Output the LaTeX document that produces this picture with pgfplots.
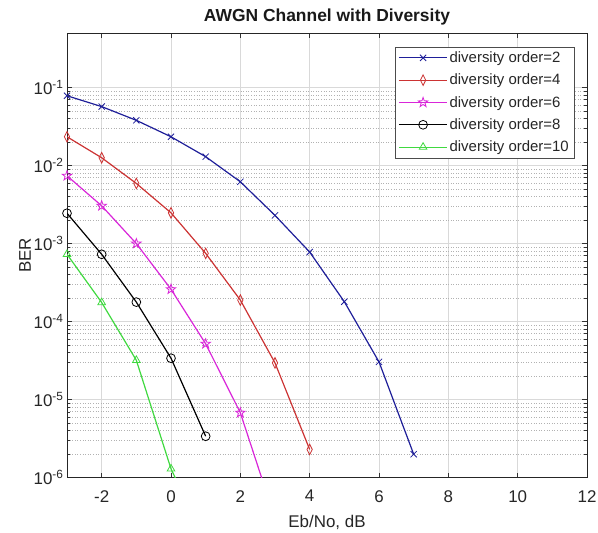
\documentclass[border=0pt]{standalone}
\usepackage{pgfplots}
\pgfplotsset{compat=1.18}
\usepackage{fontspec}
\setmainfont{Liberation Sans}
\definecolor{cblue}{rgb}{0.12,0.12,0.6}
\definecolor{cred}{rgb}{0.8,0.2,0.2}
\definecolor{cmag}{rgb}{0.85,0.15,0.85}
\definecolor{cgreen}{rgb}{0.25,0.85,0.25}
\definecolor{txt}{rgb}{0.15,0.15,0.15}
\pgfdeclareplotmark{pentagram}{%
  \pgfpathmoveto{\pgfqpointpolar{90}{1.15\pgfplotmarksize}}%
  \pgfpathlineto{\pgfqpointpolar{126}{0.46\pgfplotmarksize}}%
  \pgfpathlineto{\pgfqpointpolar{162}{1.15\pgfplotmarksize}}%
  \pgfpathlineto{\pgfqpointpolar{198}{0.46\pgfplotmarksize}}%
  \pgfpathlineto{\pgfqpointpolar{234}{1.15\pgfplotmarksize}}%
  \pgfpathlineto{\pgfqpointpolar{270}{0.46\pgfplotmarksize}}%
  \pgfpathlineto{\pgfqpointpolar{306}{1.15\pgfplotmarksize}}%
  \pgfpathlineto{\pgfqpointpolar{342}{0.46\pgfplotmarksize}}%
  \pgfpathlineto{\pgfqpointpolar{18}{1.15\pgfplotmarksize}}%
  \pgfpathlineto{\pgfqpointpolar{54}{0.46\pgfplotmarksize}}%
  \pgfpathclose
  \pgfusepathqstroke}
\begin{document}
\begin{tikzpicture}
\begin{axis}[
  scale only axis, width=520bp, height=444.7bp,
  xmin=-3, xmax=12,
  ymode=log, ymin=1e-6, ymax=0.5,
  xtick={-2,0,2,4,6,8,10,12},
  xticklabels={-2,0,2,4,6,8,10,12},
  ytick={1e-6,1e-5,1e-4,1e-3,1e-2,1e-1},
  yticklabels={10\textsuperscript{-6},10\textsuperscript{-5},10\textsuperscript{-4},10\textsuperscript{-3},10\textsuperscript{-2},10\textsuperscript{-1}},
  grid=both,
  major grid style={color=black!15, line width=0.6bp},
  minor grid style={color=black!30, line width=0.6bp, dotted},
  tick align=inside,
  major tick length=5bp, minor tick length=3bp,
  tick style={color=black!80, line width=0.5bp},
  axis line style={color=black!85, line width=0.6bp},
  ticklabel style={font=\fontsize{17}{20}\selectfont, color=txt},
  xticklabel style={yshift=-9bp},
  title={AWGN Channel with Diversity},
  title style={font=\bfseries\fontsize{17.5}{20}\selectfont, color=black!90, yshift=-2bp},
  xlabel={Eb/No, dB}, ylabel={BER},
  label style={font=\fontsize{17}{20}\selectfont, color=txt},
  xlabel style={yshift=-6bp},
  ylabel style={yshift=-4bp},
  legend style={at={(0.975,0.9685)}, anchor=north east, draw=black!70,
    font=\fontsize{15}{18}\selectfont, text=txt, fill=white,
    inner xsep=3bp, inner ysep=2.5bp, row sep=6bp},
  legend cell align=left,
  legend image code/.code={\draw[line width=0.9bp] (0cm,0cm) -- (1.7cm,0cm); \draw[line width=0.8bp] plot coordinates {(0.85cm,0cm)};},
]
\addplot[color=cblue, line width=1.2bp, mark size=4.4bp, mark=x, mark options={line width=0.8bp}] coordinates {
(-3,0.0785)(-2,0.057)(-1,0.038)(0,0.0234)(1,0.013)(2,0.0062)(3,0.0023)(4,7.8e-4)(5,1.8e-4)(6,3.05e-5)(7,2.0e-6)};
\addlegendentry{diversity order=2}
\addplot[color=cred, line width=1.2bp, mark size=4.4bp, mark=diamond, mark options={line width=0.8bp, xscale=0.8, yscale=1.2}] coordinates {
(-3,0.0234)(-2,0.0126)(-1,0.0059)(0,0.00248)(1,7.5e-4)(2,1.89e-4)(3,2.96e-5)(4,2.3e-6)};
\addlegendentry{diversity order=4}
\addplot[color=cmag, line width=1.2bp, mark size=4.4bp, mark=pentagram, mark options={line width=0.8bp}] coordinates {
(-3,0.0074)(-2,0.00305)(-1,0.001)(0,2.6e-4)(1,5.2e-5)(2,6.8e-6)(3,3e-7)};
\addlegendentry{diversity order=6}
\addplot[color=black, line width=1.2bp, mark size=4.4bp, mark=o, mark options={line width=0.8bp}] coordinates {
(-3,0.00245)(-2,7.3e-4)(-1,1.78e-4)(0,3.4e-5)(1,3.4e-6)};
\addlegendentry{diversity order=8}
\addplot[color=cgreen, line width=1.2bp, mark size=4.4bp, mark=triangle, mark options={line width=0.8bp}] coordinates {
(-3,7.3e-4)(-2,1.76e-4)(-1,3.2e-5)(0,1.3e-6)(1,1.5e-7)};
\addlegendentry{diversity order=10}
\end{axis}
\pgfresetboundingbox
\path[use as bounding box] ([xshift=-67bp,yshift=-55.3bp]current axis.south west) rectangle ([xshift=11bp,yshift=33bp]current axis.north east);
\end{tikzpicture}
\end{document}
